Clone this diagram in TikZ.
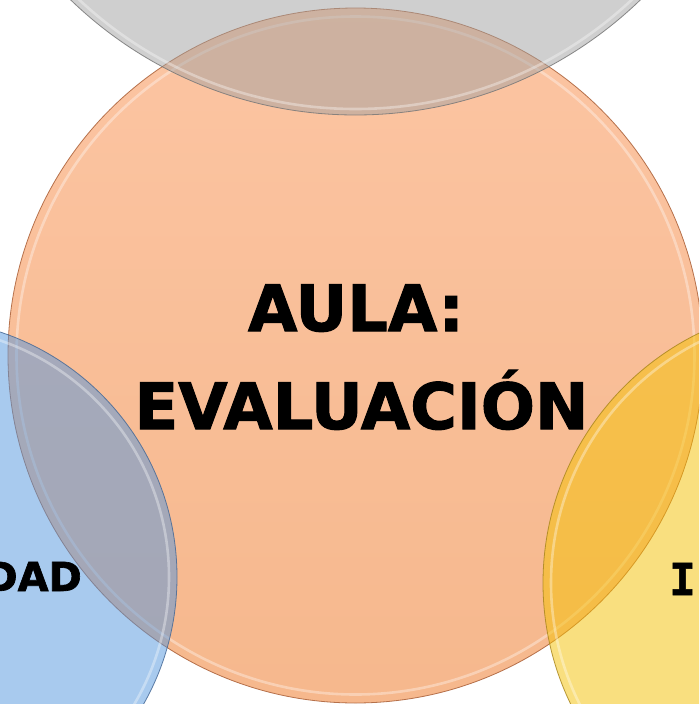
\documentclass[tikz,border=0pt]{standalone}
\usepackage{fontspec}
\setmainfont{DejaVu Sans}
\newfontfamily\heavy[FakeBold=1.6]{DejaVu Sans Bold}
\newfontfamily\monobold[FakeBold=1.2]{DejaVu Sans Mono Bold}
\definecolor{grayBase}{RGB}{160,160,160}
\definecolor{grayEdge}{RGB}{120,120,120}
\definecolor{orTop}{RGB}{250,140,72}
\definecolor{orBot}{RGB}{238,114,28}
\definecolor{orEdge}{RGB}{170,95,55}
\definecolor{blueBase}{RGB}{82,150,222}
\definecolor{blueEdge}{RGB}{70,105,150}
\definecolor{yelBase}{RGB}{245,193,0}
\definecolor{yelEdge}{RGB}{170,135,30}
\tikzset{
  venn/.style={circle, inner sep=0pt, line width=0.8pt, fill opacity=0.5, draw opacity=0.85},
  gloss/.style={draw=white, line width=2.6pt, draw opacity=0.35},
  bigtext/.style={inner sep=0pt, font=\heavy\fontsize{63.8}{70}\selectfont},
  sidetext/.style={inner sep=0pt, font=\heavy\fontsize{40}{44}\selectfont}
}
\begin{document}
\begin{tikzpicture}[x=1pt,y=-1pt]
\useasboundingbox (0,0) rectangle (699,704);
\clip (0,0) rectangle (699,704);
\fill[white] (0,0) rectangle (699,704);
% central circle
\node[venn, minimum size=695pt, top color=orTop, bottom color=orBot, draw=orEdge] (aula) at (355.5,355.5) {};
\draw[gloss] (aula.center) circle (339);
% top circle
\node[venn, minimum size=820pt, fill=grayBase, draw=grayEdge] (top) at (355.5,-295) {};
\draw[gloss] (top.center) circle (404);
% left circle
\node[venn, minimum size=516pt, fill=blueBase, draw=blueEdge] (left) at (-81,577) {};
\draw[gloss] (left.center) circle (250);
% right circle
\node[venn, minimum size=556pt, fill=yelBase, draw=yelEdge] (right) at (821,583) {};
\draw[gloss] (right.center) circle (270);
% texts
\node[bigtext, anchor=base] (t1) at (356,331) {AULA:};
\node[bigtext, anchor=base] (t2) at (361.5,429) {EVALUACIÓN};
\node[sidetext, anchor=base east] (t3) at (82,591) {DAD};
\node[inner sep=0pt, anchor=base west, font=\monobold\fontsize{44}{48}\selectfont] (t4) at (669,595) {I};
\end{tikzpicture}
\end{document}
